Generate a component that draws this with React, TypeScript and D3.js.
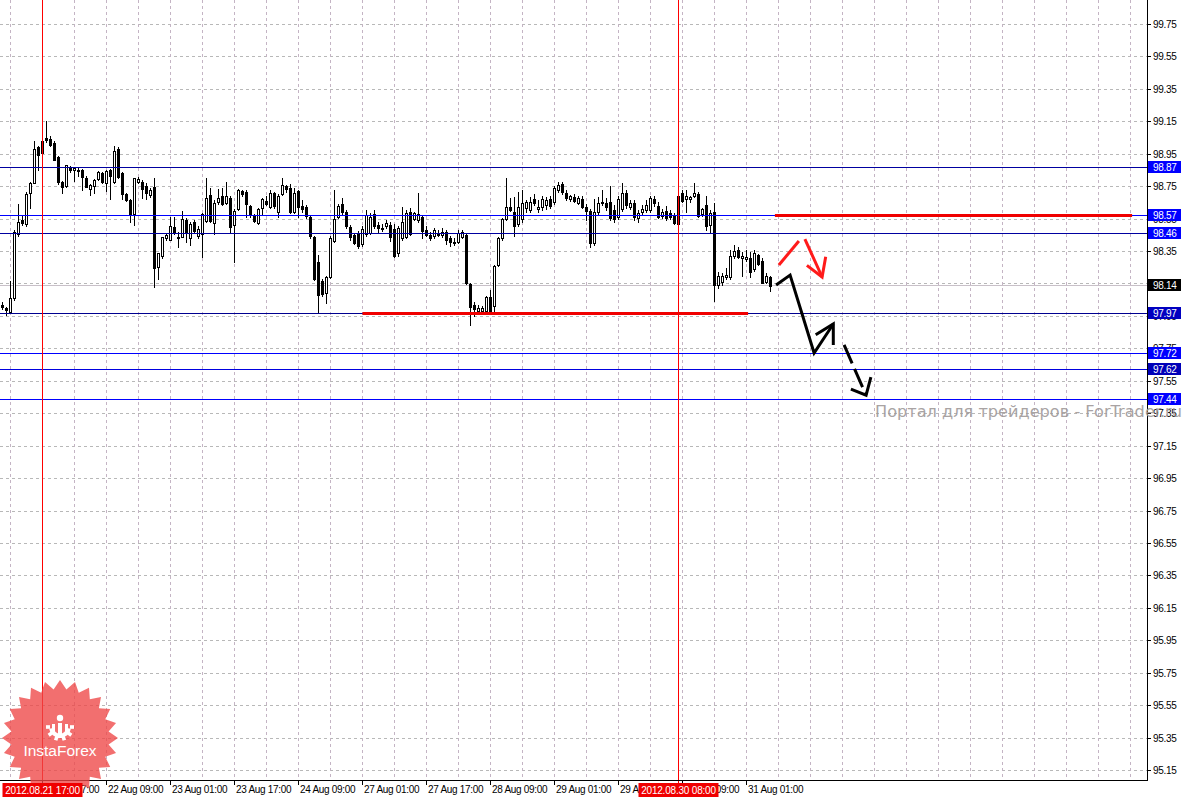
import React from 'react';
import * as d3 from 'd3';

const W = 1190;
const H = 800;
const PLOT_R = 1147;
const PLOT_B = 780;

// H1 candles [open, high, low, close], 21 Aug 08:00 .. 31 Aug 07:00
const ohlc: [number, number, number, number][] = [
  [98.020,98.039,97.996,98.008],[98.002,98.008,97.959,97.990],[97.977,98.168,97.977,98.064],[98.064,98.483,98.051,98.470],
  [98.458,98.643,98.446,98.532],[98.545,98.575,98.514,98.526],[98.520,98.717,98.508,98.705],[98.711,98.779,98.618,98.773],
  [98.773,99.032,98.773,98.982],[98.995,99.001,98.853,98.945],[98.958,99.038,98.958,99.032],[99.050,99.155,99.025,99.038],
  [99.044,99.062,99.001,99.007],[99.019,99.032,98.914,98.914],[98.933,98.939,98.766,98.779],[98.779,98.785,98.711,98.748],
  [98.754,98.884,98.748,98.884],[98.865,98.877,98.840,98.853],[98.853,98.871,98.785,98.865],[98.853,98.865,98.816,98.847],
  [98.853,98.859,98.729,98.810],[98.803,98.816,98.748,98.748],[98.736,98.766,98.699,98.760],[98.754,98.797,98.711,98.791],
  [98.797,98.847,98.791,98.840],[98.834,98.840,98.773,98.779],[98.773,98.853,98.723,98.847],[98.853,98.859,98.674,98.816],
  [98.779,99.001,98.773,98.970],[98.982,98.995,98.803,98.810],[98.834,98.840,98.674,98.705],[98.705,98.711,98.662,98.668],
  [98.668,98.674,98.532,98.582],[98.582,98.803,98.514,98.803],[98.779,98.810,98.773,98.797],[98.779,98.791,98.680,98.736],
  [98.754,98.773,98.674,98.711],[98.699,98.742,98.686,98.729],[98.748,98.803,98.131,98.248],[98.255,98.341,98.181,98.341],
  [98.322,98.440,98.310,98.440],[98.433,98.458,98.421,98.452],[98.421,98.563,98.421,98.508],[98.501,98.563,98.458,98.464],
  [98.440,98.470,98.378,98.433],[98.440,98.600,98.440,98.551],[98.545,98.557,98.409,98.464],[98.433,98.532,98.390,98.520],
  [98.532,98.545,98.470,98.477],[98.446,98.508,98.433,98.489],[98.458,98.588,98.316,98.582],[98.538,98.803,98.532,98.680],
  [98.699,98.742,98.532,98.538],[98.526,98.668,98.458,98.649],[98.655,98.736,98.643,98.680],[98.692,98.742,98.637,98.643],
  [98.649,98.779,98.643,98.692],[98.680,98.692,98.464,98.501],[98.514,98.612,98.286,98.600],[98.612,98.736,98.606,98.729],
  [98.723,98.729,98.692,98.705],[98.717,98.729,98.563,98.643],[98.631,98.637,98.563,98.582],[98.569,98.582,98.532,98.538],
  [98.526,98.618,98.520,98.612],[98.618,98.680,98.575,98.674],[98.662,98.692,98.637,98.643],[98.625,98.729,98.618,98.711],
  [98.711,98.717,98.618,98.631],[98.594,98.705,98.563,98.692],[98.705,98.803,98.699,98.760],[98.754,98.760,98.717,98.736],
  [98.742,98.766,98.588,98.594],[98.594,98.742,98.588,98.711],[98.723,98.729,98.563,98.625],[98.631,98.668,98.594,98.612],
  [98.625,98.637,98.557,98.569],[98.563,98.569,98.433,98.446],[98.440,98.446,98.175,98.181],[98.286,98.329,97.977,98.082],
  [98.168,98.181,98.076,98.088],[98.094,98.199,98.033,98.193],[98.193,98.446,98.187,98.433],[98.415,98.729,98.409,98.551],
  [98.563,98.643,98.557,98.631],[98.643,98.680,98.582,98.594],[98.594,98.606,98.495,98.508],[98.501,98.514,98.421,98.440],
  [98.452,98.464,98.396,98.403],[98.464,98.477,98.372,98.384],[98.396,98.508,98.384,98.489],[98.458,98.606,98.446,98.575],
  [98.464,98.588,98.458,98.563],[98.582,98.606,98.495,98.508],[98.514,98.532,98.470,98.495],[98.489,98.520,98.477,98.495],
  [98.508,98.545,98.495,98.526],[98.514,98.532,98.415,98.440],[98.489,98.520,98.316,98.322],[98.341,98.508,98.322,98.495],
  [98.433,98.625,98.421,98.532],[98.440,98.606,98.433,98.588],[98.594,98.618,98.452,98.458],[98.551,98.594,98.545,98.588],
  [98.545,98.711,98.532,98.582],[98.563,98.575,98.433,98.477],[98.483,98.508,98.446,98.452],[98.452,98.470,98.421,98.433],
  [98.446,98.495,98.433,98.483],[98.464,98.483,98.446,98.452],[98.452,98.495,98.440,98.470],[98.470,98.483,98.396,98.421],
  [98.433,98.446,98.384,98.409],[98.409,98.433,98.390,98.403],[98.409,98.483,98.403,98.464],[98.440,98.483,98.433,98.470],
  [98.452,98.464,98.150,98.156],[98.150,98.156,97.897,98.008],[98.020,98.039,97.953,97.996],[97.983,98.020,97.971,98.002],
  [97.983,98.014,97.971,98.002],[97.983,98.076,97.971,98.070],[98.070,98.113,97.983,97.983],[98.014,98.267,97.983,98.261],
  [98.267,98.440,98.261,98.433],[98.433,98.557,98.421,98.551],[98.551,98.803,98.545,98.625],[98.625,98.680,98.600,98.606],
  [98.594,98.686,98.446,98.508],[98.520,98.717,98.508,98.625],[98.551,98.729,98.532,98.649],[98.618,98.668,98.594,98.655],
  [98.606,98.686,98.594,98.655],[98.674,98.705,98.637,98.649],[98.612,98.668,98.594,98.625],[98.625,98.692,98.606,98.674],
  [98.637,98.686,98.612,98.668],[98.674,98.692,98.618,98.631],[98.655,98.754,98.643,98.742],[98.729,98.779,98.717,98.760],
  [98.766,98.779,98.705,98.717],[98.711,98.729,98.668,98.680],[98.674,98.699,98.662,98.692],[98.686,98.705,98.655,98.662],
  [98.649,98.692,98.643,98.680],[98.674,98.692,98.618,98.625],[98.625,98.643,98.545,98.600],[98.600,98.612,98.378,98.403],
  [98.403,98.674,98.390,98.594],[98.594,98.686,98.582,98.649],[98.655,98.729,98.637,98.649],[98.649,98.680,98.606,98.625],
  [98.655,98.754,98.545,98.557],[98.606,98.637,98.532,98.551],[98.563,98.692,98.551,98.674],[98.612,98.773,98.600,98.711],
  [98.711,98.729,98.618,98.637],[98.625,98.668,98.612,98.649],[98.649,98.668,98.545,98.563],[98.557,98.606,98.532,98.588],
  [98.594,98.637,98.582,98.612],[98.606,98.668,98.594,98.637],[98.606,98.692,98.594,98.680],[98.674,98.692,98.631,98.649],
  [98.631,98.655,98.557,98.563],[98.569,98.612,98.557,98.594],[98.600,98.631,98.545,98.557],[98.588,98.606,98.551,98.563],
  [98.569,98.588,98.520,98.526],[98.692,98.711,98.514,98.520],[98.711,98.729,98.655,98.662],[98.674,98.729,98.594,98.692],
  [98.674,98.692,98.655,98.686],[98.692,98.773,98.686,98.711],[98.705,98.717,98.563,98.569],[98.582,98.618,98.569,98.612],
  [98.637,98.692,98.483,98.508],[98.514,98.606,98.470,98.588],[98.594,98.649,98.045,98.144],[98.144,98.224,98.125,98.199],
  [98.162,98.218,98.144,98.199],[98.193,98.248,98.181,98.205],[98.193,98.360,98.181,98.322],[98.322,98.390,98.310,98.353],
  [98.360,98.378,98.310,98.316],[98.310,98.347,98.199,98.322],[98.304,98.360,98.292,98.316],[98.310,98.347,98.193,98.224],
  [98.242,98.360,98.230,98.341],[98.329,98.335,98.267,98.273],[98.292,98.310,98.156,98.156],[98.162,98.218,98.156,98.199],
  [98.193,98.199,98.107,98.138],
];

const priceTicks = [99.75, 99.55, 99.35, 99.15, 98.95, 98.75, 98.55, 98.35, 98.15, 97.95, 97.75, 97.55, 97.35,
  97.15, 96.95, 96.75, 96.55, 96.35, 96.15, 95.95, 95.75, 95.55, 95.35, 95.15];

const timeLabelIdx = [26, 42, 58, 74, 90, 106, 122, 138, 154, 170, 186];
const timeLabelText = ['22 Aug 09:00', '23 Aug 01:00', '23 Aug 17:00', '24 Aug 09:00', '27 Aug 01:00',
  '27 Aug 17:00', '28 Aug 09:00', '29 Aug 01:00', '29 Aug 17:00', '30 Aug 09:00', '31 Aug 01:00'];
const hiddenLabelIdx = [10];
const hiddenLabelText = ['21 Aug 17:00'];

const levelPrices = [98.87, 98.57, 98.46, 97.97, 97.72, 97.62, 97.44];
const levelLineColors = ['#0000a0', '#0000ff', '#0000a0', '#000090', '#0000ff', '#0000e0', '#0000ff'];
const levelBoxColors = ['#0000ff', '#0000ff', '#0000ff', '#0000c0', '#0000ff', '#0000b8', '#0000ff'];

const currentPrice = 98.14;

const vLineIdx = [10, 169];
const vLineText = ['2012.08.21 17:00', '2012.08.30 08:00'];

// red support / resistance segments [idxStart, idxEnd, price]
const redSegments: [number, number, number][] = [
  [90, 186.4, 97.97],
  [193.1, 282.4, 98.57],
];

// forecast paths (index, price)
const redPath1: [number, number][] = [[194.1, 98.267], [199.1, 98.415]];
const redPath2: [number, number][] = [[200.6, 98.427], [204.9, 98.193]];
const redHead2: [number, number][] = [[201.1, 98.265], [204.9, 98.193], [205.8, 98.318]];
const blackPath: [number, number][] = [[193.4, 98.144], [196.9, 98.205], [202.9, 97.724], [207.7, 97.903]];
const blackHead: [number, number][] = [[203.3, 97.837], [207.7, 97.903], [207.7, 97.774]];
const dashPath: [number, number][] = [[210.4, 97.774], [215.9, 97.464]];
const dashHead: [number, number][] = [[212.1, 97.502], [215.9, 97.464], [217.1, 97.575]];

const FONT = '"Liberation Sans", Arial, sans-serif';

function Logo() {
  const cx = 60, cy = 738, rOut = 58, rIn = 49, n = 24;
  const pts: [number, number][] = [];
  for (let k = 0; k < n * 2; k++) {
    const a = (Math.PI * k) / n - Math.PI / 2;
    const r = k % 2 === 0 ? rOut : rIn;
    pts.push([cx + r * Math.cos(a), cy + r * Math.sin(a)]);
  }
  const teeth = d3.range(10).map((k) => (k * 36 + 18) * Math.PI / 180);
  return (
    <g>
      <polygon points={pts.map((p) => p.join(',')).join(' ')} fill="#ee4646" opacity={0.78} />
      <g>
        <path d={d3.arc()({ innerRadius: 6.5, outerRadius: 11, startAngle: Math.PI * 0.55, endAngle: Math.PI * 1.45 }) || ''}
          transform="translate(60,727)" fill="#fff" />
        {teeth.map((a, k) => {
          const deg = (a * 180) / Math.PI;
          return Math.cos(a) <= 0.2 ? (
            <rect key={k} x={-1.8} y={-14} width={3.6} height={4} fill="#fff" transform={`translate(60,727) rotate(${deg})`} />
          ) : null;
        })}
        <circle cx={60} cy={718} r={3.2} fill="#fff" />
        <rect x={58} y={723} width={4} height={15} fill="#fff" />
        <rect x={52} y={724} width={3} height={10} fill="#fff" />
        <rect x={65} y={724} width={3} height={10} fill="#fff" />
      </g>
      <text x={60} y={756} textAnchor="middle" fill="#fff" fontFamily={FONT} fontSize={15.5}>InstaForex</text>
    </g>
  );
}

export default function App() {
  const x = d3.scaleLinear().domain([0, 192]).range([2.5, 770.5]);
  const y = d3.scaleLinear().domain([95.15, 99.75]).range([770.5, 24.5]);
  const cy = (p: number) => Math.round(y(p) - 0.5) + 0.5;
  const line = d3.line<[number, number]>().x((d) => x(d[0])).y((d) => y(d[1]));

  const vGrid = d3.range(2, 283, 8).map((i) => x(i)).filter((v) => v < PLOT_R);

  return (
    <svg width={W} height={H} viewBox={`0 0 ${W} ${H}`}
      style={{ position: 'absolute', left: 0, top: 0, background: '#fff', display: 'block' }}>
      <rect x={0} y={0} width={W} height={H} fill="#fff" />
      {/* grid */}
      <g stroke="#b8b8b8" strokeWidth={1} strokeDasharray="3,3">
        {priceTicks.map((p) => (
          <line key={'h' + p} x1={0} x2={PLOT_R} y1={cy(p)} y2={cy(p)} />
        ))}
        {vGrid.map((vx) => (
          <line key={'v' + vx} x1={vx} x2={vx} y1={0} y2={PLOT_B} stroke="#c4b4c4" />
        ))}
      </g>
      {/* current price line */}
      <line x1={0} x2={PLOT_R} y1={cy(currentPrice)} y2={cy(currentPrice)} stroke="#c8c0c8" strokeWidth={1} />

      {/* candles */}
      <g>
        {ohlc.map((c, i) => {
          const [o, h, l, cl] = c;
          const xc = x(i);
          const top = Math.round(y(Math.max(o, cl)));
          const bot = Math.round(y(Math.min(o, cl)));
          const hi = Math.round(y(h));
          const lo = Math.round(y(l));
          const bull = cl >= o;
          return (
            <g key={i}>
              <line x1={xc} x2={xc} y1={hi} y2={lo + 1} stroke="#000" strokeWidth={1} />
              {bull ? (
                <rect x={xc - 1} y={top + 0.5} width={2} height={Math.max(bot - top, 1)} fill="#fff" stroke="#000" strokeWidth={1} />
              ) : (
                <rect x={xc - 1.5} y={top} width={3} height={Math.max(bot - top + 1, 1)} fill="#000" />
              )}
            </g>
          );
        })}
      </g>

      {/* level lines */}
      {levelPrices.map((p, k) => (
        <line key={'l' + p} x1={0} x2={PLOT_R + 2} y1={cy(p)} y2={cy(p)} stroke={levelLineColors[k]} strokeWidth={1} />
      ))}

      {/* vertical red lines */}
      {vLineIdx.map((i) => (
        <line key={'vr' + i} x1={x(i)} x2={x(i)} y1={0} y2={PLOT_B + 4} stroke="#ff0000" strokeWidth={1} />
      ))}

      {/* red segments */}
      {redSegments.map(([a, b, p], k) => (
        <line key={'rs' + k} x1={x(a)} x2={x(b)} y1={cy(p)} y2={cy(p)} stroke="#f00000" strokeWidth={3} />
      ))}

      {/* forecast arrows */}
      <g fill="none" strokeLinejoin="miter">
        <path d={line(redPath1) || ''} stroke="#ff1a1a" strokeWidth={3} />
        <path d={line(redPath2) || ''} stroke="#ff1a1a" strokeWidth={3} />
        <path d={line(redHead2) || ''} stroke="#ff1a1a" strokeWidth={3} />
        <path d={line(blackPath) || ''} stroke="#000" strokeWidth={3} />
        <path d={line(blackHead) || ''} stroke="#000" strokeWidth={3} />
        <path d={line(dashPath) || ''} stroke="#000" strokeWidth={3} strokeDasharray="20,6" />
        <path d={line(dashHead) || ''} stroke="#000" strokeWidth={3} />
      </g>

      {/* frame */}
      <line x1={PLOT_R + 0.5} x2={PLOT_R + 0.5} y1={0} y2={PLOT_B + 1} stroke="#000" />
      <line x1={0} x2={PLOT_R + 1} y1={PLOT_B + 0.5} y2={PLOT_B + 0.5} stroke="#000" />

      {/* price axis */}
      <g fontFamily={FONT} fontSize={10} letterSpacing={-0.3} fill="#000">
        {priceTicks.map((p) => (
          <g key={'t' + p}>
            <line x1={PLOT_R} x2={PLOT_R + 4} y1={cy(p)} y2={cy(p)} stroke="#000" />
            <text x={1153} y={cy(p) + 3.5}>{p.toFixed(2)}</text>
          </g>
        ))}
      </g>

      {/* level boxes */}
      <g fontFamily={FONT} fontSize={10} letterSpacing={-0.3}>
        {levelPrices.map((p, k) => (
          <g key={'b' + p}>
            <rect x={1148} y={cy(p) - 6.5} width={33} height={12} fill={levelBoxColors[k]} />
            <text x={1153} y={cy(p) + 3.5} fill="#fff">{p.toFixed(2)}</text>
          </g>
        ))}
        <rect x={1148} y={cy(currentPrice) - 6.5} width={33} height={12} fill="#000" />
        <text x={1153} y={cy(currentPrice) + 3.5} fill="#fff">{currentPrice.toFixed(2)}</text>
      </g>

      {/* watermark */}
      <text x={875} y={417} fill="#a09a9a" fontFamily='"DejaVu Sans", Verdana, sans-serif' fontSize={16.5}
        textLength={307} lengthAdjust="spacingAndGlyphs" opacity={0.9}>Портал для трейдеров - ForTrader.ru</text>

      {/* time axis */}
      <g fontFamily={FONT} fontSize={10} letterSpacing={-0.3} fill="#000">
        {hiddenLabelIdx.map((i, k) => (
          <g key={'hl' + i}>
            <line x1={x(i)} x2={x(i)} y1={PLOT_B} y2={PLOT_B + 5} stroke="#000" />
            <text x={x(i) + 1.5} y={793}>{hiddenLabelText[k]}</text>
          </g>
        ))}
        {timeLabelIdx.map((i, k) => (
          <g key={'tl' + i}>
            <line x1={x(i)} x2={x(i)} y1={PLOT_B} y2={PLOT_B + 5} stroke="#000" />
            <text x={x(i) + 1.5} y={793}>{timeLabelText[k]}</text>
          </g>
        ))}
      </g>

      <Logo />

      {/* vertical line labels */}
      <g fontFamily={FONT} fontSize={10} letterSpacing={-0.2}>
        {vLineIdx.map((i, k) => (
          <g key={'vl' + i}>
            <rect x={x(i) - 40} y={783} width={80} height={14} fill="#f00000" />
            <text x={x(i)} y={794} textAnchor="middle" fill="#fff">{vLineText[k]}</text>
          </g>
        ))}
      </g>
    </svg>
  );
}
